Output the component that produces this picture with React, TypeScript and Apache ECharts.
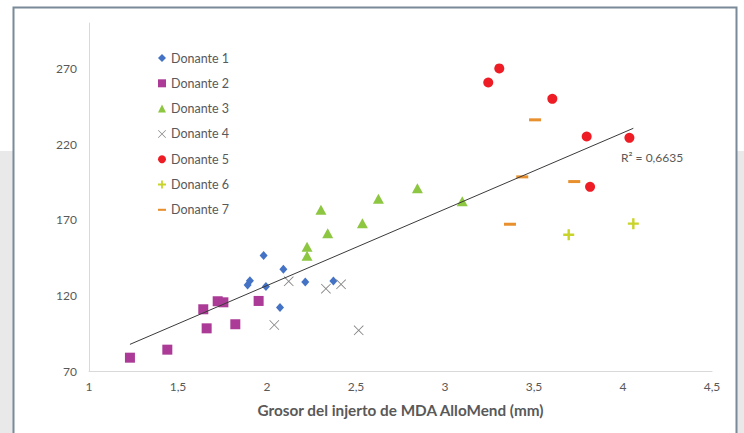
import React, { useEffect, useRef } from "react";
import * as echarts from "echarts";

const seriesNames = ["Donante 1", "Donante 2", "Donante 3", "Donante 4", "Donante 5", "Donante 6", "Donante 7"];

const d1x = [1.981, 2.092, 1.904, 1.891, 1.994, 2.215, 2.373, 2.073];
const d1y = [146.3, 137.3, 129.7, 126.9, 125.8, 128.9, 129.5, 111.9];

const d2x = [1.23, 1.44, 1.642, 1.661, 1.723, 1.755, 1.822, 1.953];
const d2y = [78.8, 84.1, 110.8, 98.2, 116.1, 115.4, 100.9, 116.3];

const d3x = [2.225, 2.225, 2.341, 2.303, 2.536, 2.626, 2.845, 3.097];
const d3y = [152.2, 146.1, 161.1, 176.5, 167.7, 183.8, 190.8, 182.2];

const d4x = [2.122, 2.041, 2.331, 2.416, 2.515];
const d4y = [129.3, 100.4, 124.4, 127.3, 96.9];

const d5x = [3.305, 3.243, 3.603, 3.796, 4.036, 3.815];
const d5y = [270.0, 260.7, 249.9, 225.0, 224.1, 191.7];

const d6x = [3.695, 4.058];
const d6y = [160.1, 167.4];

const d7x = [3.506, 3.434, 3.726, 3.365];
const d7y = [236.0, 198.3, 195.2, 167.0];

const trendX = [1.23, 4.058];
const trendY = [87.6, 230.4];

const yTickValues = [70, 120, 170, 220, 270];
const xTickValues = [1, 1.5, 2, 2.5, 3, 3.5, 4, 4.5];
const xAxisTitle = "Grosor del injerto de MDA AlloMend (mm)";
const r2Label = "R² = 0,6635";

const FONT = "Lato, 'Liberation Sans', sans-serif";
const TEXT = "#595959";

const xPath = "path://M0,0.6L0.6,0L5,4.4L9.4,0L10,0.6L5.6,5L10,9.4L9.4,10L5,5.6L0.6,10L0,9.4L4.4,5Z";
const plusPath = "path://M3.9,0L6.1,0L6.1,3.9L10,3.9L10,6.1L6.1,6.1L6.1,10L3.9,10L3.9,6.1L0,6.1L0,3.9L3.9,3.9Z";
const dashPath = "path://M0,0L10,0L10,2.6L0,2.6Z";

const xs = [d1x, d2x, d3x, d4x, d5x, d6x, d7x];
const ys = [d1y, d2y, d3y, d4y, d5y, d6y, d7y];
const colors = ["#4472C4", "#AB3B96", "#8DC641", "#858585", "#EE1C24", "#C9D42A", "#E8902E"];
const symbols = ["diamond", "rect", "triangle", xPath, "circle", plusPath, "rect"];
const sizes: any[] = [[8, 9], 10, [11, 10], 10, 10, 11, [12, 3]];
const legendIcons = ["diamond", "rect", "triangle", xPath, "circle", plusPath, dashPath];

export default function App() {
  const ref = useRef<HTMLDivElement>(null);
  useEffect(() => {
    if (!ref.current) return;
    const chart = echarts.init(ref.current, null, { renderer: "svg" });
    const scatter = seriesNames.map((name, i) => ({
      name,
      type: "scatter",
      symbol: symbols[i],
      symbolSize: sizes[i],
      symbolKeepAspect: false,
      itemStyle: { color: colors[i], opacity: 1 },
      data: xs[i].map((x, k) => [x, ys[i][k]]),
      z: 3,
    }));
    chart.setOption({
      animation: false,
      textStyle: { fontFamily: FONT },
      graphic: [
        { type: "rect", z: -10, shape: { x: 0, y: 151, width: 744, height: 282 }, style: { fill: "#E9E9E9" } },
        { type: "rect", z: -9, shape: { x: 13.5, y: 7.5, width: 723, height: 440 }, style: { fill: "#FFFFFF", stroke: "#7B8A98", lineWidth: 2 } },
        { type: "text", z: 10, x: 621, y: 157, style: { text: r2Label, fill: TEXT, font: `12px ${FONT}`, verticalAlign: "middle" } },
      ],
      legend: {
        orient: "vertical",
        left: 158,
        top: 51,
        padding: 0,
        itemWidth: 8,
        itemHeight: 8,
        itemGap: 11.3,
        selectedMode: false,
        textStyle: { fontSize: 12.5, color: TEXT, fontFamily: FONT, lineHeight: 14 },
        data: seriesNames.map((n, i) => ({ name: n, icon: legendIcons[i] })),
      },
      grid: { left: 89, right: 32, top: 23, bottom: 62, containLabel: false },
      xAxis: {
        type: "value",
        min: 1,
        max: 4.5,
        interval: 0.5,
        name: xAxisTitle,
        nameLocation: "middle",
        nameGap: 31,
        nameTextStyle: { fontSize: 15.3, fontWeight: "bold", color: TEXT, fontFamily: FONT },
        axisLine: { show: true, lineStyle: { color: "#D9D9D9", width: 1 } },
        axisTick: { show: false },
        splitLine: { show: false },
        axisLabel: {
          fontSize: 12,
          color: TEXT,
          margin: 9,
          customValues: xTickValues,
          formatter: (v: number) => String(v).replace(".", ","),
        },
      },
      yAxis: {
        type: "value",
        min: 70,
        max: 300,
        axisLine: { show: true, lineStyle: { color: "#D9D9D9", width: 1 } },
        axisTick: { show: false },
        splitLine: { show: false },
        axisLabel: { fontSize: 12, color: TEXT, margin: 12, customValues: yTickValues },
      },
      series: [
        ...scatter,
        {
          name: "trend",
          type: "line",
          data: trendX.map((x, k) => [x, trendY[k]]),
          symbol: "none",
          lineStyle: { color: "#3A3A3A", width: 1 },
          silent: true,
          z: 4,
        },
      ],
    });
    return () => chart.dispose();
  }, []);
  return (
    <div style={{ position: "absolute", left: 0, top: 0, width: 744, height: 433, background: "#fff" }}>
      <div ref={ref} style={{ width: 744, height: 433 }} />
    </div>
  );
}
